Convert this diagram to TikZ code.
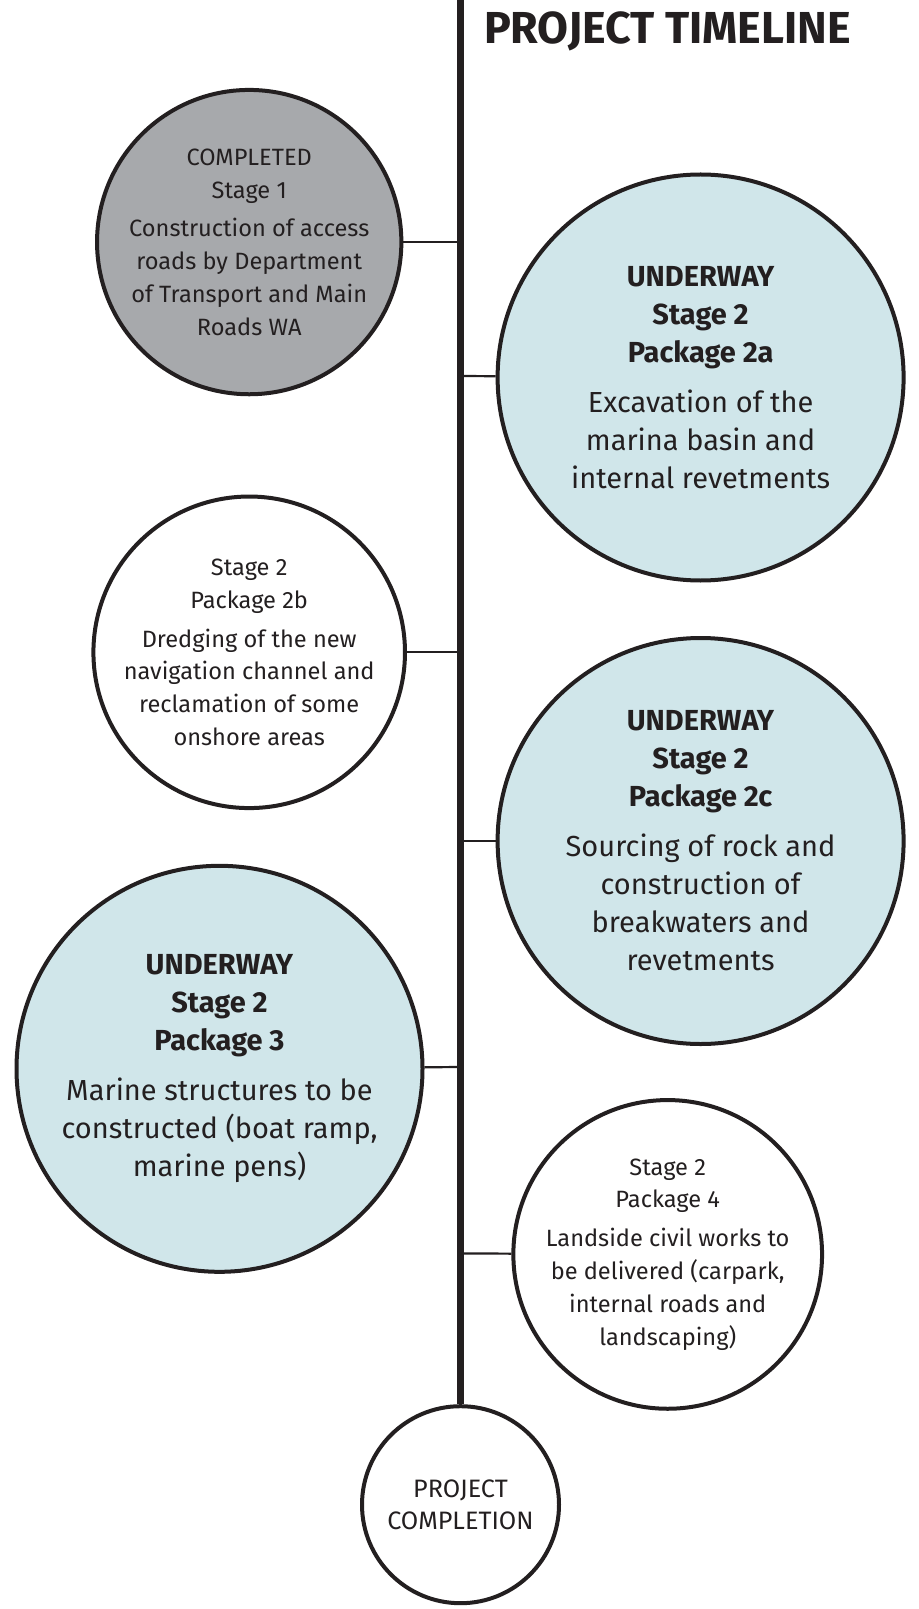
\documentclass[tikz,border=0pt]{standalone}
\usepackage{fontspec}
\setmainfont{Fira Sans}
\definecolor{ink}{HTML}{231F20}
\definecolor{donegray}{HTML}{A7A9AC}
\definecolor{workblue}{HTML}{D0E6EA}

\begin{document}
\begin{tikzpicture}[x=0.5pt, y=-0.5pt,
  every node/.style={draw=ink, line width=2pt, circle, inner sep=0pt, align=center, text=ink},
  small/.style={font=\fontsize{11.8}{16.4}\selectfont},
  large/.style={font=\fontsize{14.5}{19}\selectfont}]
  \useasboundingbox (0,0) rectangle (919,1609);

  % Title
  \node[draw=none, rectangle, anchor=base west, font=\fontsize{22.4}{26}\selectfont\bfseries] (title) at (482,44) {PROJECT TIMELINE};

  % Stages
  \node[fill=donegray, small, minimum size=148.7pt] (stage1) at (249.2,242.1)
    {COMPLETED\\Stage 1\\[3pt]Construction of access\\roads by Department\\of Transport and Main\\Roads WA};
  \node[fill=workblue, large, minimum size=203pt] (pkg2a) at (700.6,377.5)
    {\textbf{UNDERWAY}\\\textbf{Stage 2}\\\textbf{Package 2a}\\[6pt]Excavation of the\\marina basin and\\internal revetments};
  \node[fill=white, small, minimum size=148.7pt] (pkg2b) at (249.2,652.3)
    {Stage 2\\Package 2b\\[3pt]Dredging of the new\\navigation channel and\\reclamation of some\\onshore areas};
  \node[fill=workblue, large, minimum size=203pt] (pkg2c) at (700.6,841)
    {\textbf{UNDERWAY}\\\textbf{Stage 2}\\\textbf{Package 2c}\\[6pt]Sourcing of rock and\\construction of\\breakwaters and\\revetments};
  \node[fill=workblue, large, minimum size=203pt] (pkg3) at (219.5,1068.8)
    {\textbf{UNDERWAY}\\\textbf{Stage 2}\\\textbf{Package 3}\\[6pt]Marine structures to be\\constructed (boat ramp,\\marine pens)};
  \node[fill=white, small, minimum size=138.5pt] (pkg4) at (667.7,1254.4)
    {Stage 2\\Package 4\\[3pt]Landside civil works to\\be delivered (carpark,\\internal roads and\\landscaping)};
  \node[fill=white, font=\fontsize{12.6}{16.4}\selectfont, minimum size=98.5pt] (finish) at (460.5,1504.7)
    {PROJECT\\COMPLETION};

  % Spine points
  \coordinate (top) at (460.5,0);
  \coordinate (s1) at (460.5,242.1);
  \coordinate (s2a) at (460.5,376);
  \coordinate (s2b) at (460.5,652.3);
  \coordinate (s2c) at (460.5,841);
  \coordinate (s3) at (460.5,1067);
  \coordinate (s4) at (460.5,1253.4);

  % Spine
  \draw[line width=3.6pt, ink] (top) -- (finish);

  % Links
  \draw[line width=1.1pt, ink] (stage1) -- (s1);
  \draw[line width=1.1pt, ink] (s2a) -- (pkg2a);
  \draw[line width=1.1pt, ink] (pkg2b) -- (s2b);
  \draw[line width=1.1pt, ink] (s2c) -- (pkg2c);
  \draw[line width=1.1pt, ink] (pkg3) -- (s3);
  \draw[line width=1.1pt, ink] (s4) -- (pkg4);
\end{tikzpicture}
\end{document}
